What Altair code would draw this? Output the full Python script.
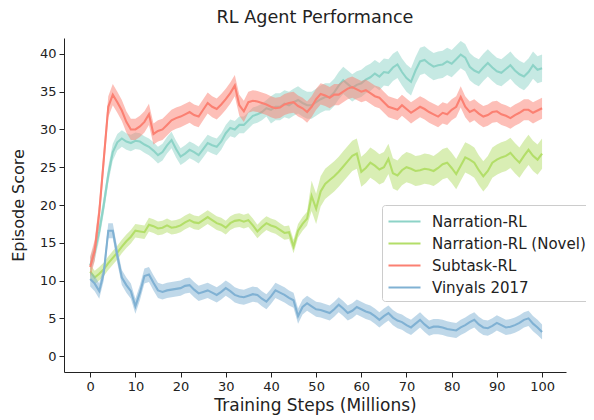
import altair as alt
import pandas as pd

steps = list(range(0, 101))

narration = [12.0, 13.8, 16.5, 20.0, 24.0, 27.0, 28.3, 28.8, 28.4, 28.2,
             28.5, 28.4, 28.0, 27.7, 27.2, 26.6, 27.0, 27.9, 28.6, 27.4,
             26.4, 26.8, 27.3, 27.0, 26.6, 27.4, 28.2, 27.9, 27.7, 28.4,
             29.5, 30.2, 30.0, 30.6, 30.6, 31.2, 31.8, 32.0, 32.3, 32.8,
             32.6, 33.0, 33.0, 33.4, 33.2, 33.6, 33.9, 33.5, 33.2, 33.2,
             33.6, 34.0, 34.3, 34.3, 34.9, 35.8, 36.5, 36.0, 35.5, 35.9,
             36.1, 36.6, 36.9, 37.4, 37.0, 37.6, 37.5, 38.2, 38.6, 37.6,
             36.8, 36.3, 37.8, 39.0, 39.2, 38.7, 38.3, 38.5, 38.6, 39.0,
             38.7, 39.3, 39.9, 39.5, 38.3, 37.8, 37.5, 38.2, 38.8, 38.2,
             37.7, 37.5, 38.0, 38.5, 37.8, 37.3, 37.0, 37.6, 38.5, 37.9,
             38.1]

novel = [11.2, 10.4, 10.9, 11.5, 12.3, 13.0, 13.7, 14.5, 15.2, 15.8,
         16.6, 16.5, 16.4, 17.4, 17.2, 16.9, 17.0, 17.3, 17.0, 17.1,
         17.3, 17.7, 18.0, 17.7, 17.6, 18.0, 18.4, 18.0, 17.6, 17.4,
         17.0, 17.6, 17.9, 18.0, 17.8, 18.0, 17.3, 16.5, 17.1, 17.6,
         17.3, 17.1, 16.7, 16.3, 16.4, 14.5, 16.6, 17.5, 18.2, 21.2,
         19.5, 21.8, 22.8, 23.3, 23.8, 24.4, 25.1, 25.8, 26.5, 26.8,
         24.4, 24.9, 25.6, 25.2, 24.7, 25.0, 26.1, 24.2, 23.9, 24.6,
         25.0, 24.8, 24.5, 24.6, 24.8, 24.7, 24.5, 24.9, 25.4, 25.6,
         24.9, 24.1, 25.2, 26.3, 26.0, 25.6, 24.6, 23.8, 24.5, 25.6,
         26.0, 26.3, 26.5, 26.9, 26.2, 25.6, 26.5, 27.3, 26.5, 26.0,
         26.8]

subtask = [11.8, 14.0, 19.0, 26.0, 33.0, 34.6, 33.6, 32.5, 31.0, 30.0,
           30.0, 30.4, 31.0, 32.0, 29.4, 29.8, 30.0, 30.6, 31.2, 31.5,
           31.7, 32.0, 32.3, 31.9, 31.7, 32.6, 33.5, 33.0, 32.7, 33.3,
           34.0, 34.8, 35.8, 33.2, 32.4, 33.6, 33.8, 33.7, 33.5, 33.3,
           33.0, 32.8, 32.9, 33.3, 33.5, 33.6, 33.1, 32.8, 32.3, 33.0,
           34.0, 34.7, 34.5, 34.2, 34.6, 34.6, 35.0, 35.4, 35.6, 35.3,
           35.0, 35.2, 34.8, 34.4, 34.2, 33.6, 33.0, 32.8, 32.6, 33.2,
           32.7, 32.2, 32.6, 33.0, 32.7, 32.3, 32.0, 31.7, 32.2, 32.0,
           32.6, 33.0, 34.3, 33.0, 32.3, 32.6, 32.1, 31.7, 31.9, 32.3,
           32.4, 32.0, 31.8, 31.5, 31.9, 32.2, 32.6, 32.6, 32.2, 32.5,
           32.8]

vinyals = [10.2, 9.6, 8.6, 11.0, 16.6, 16.6, 13.3, 10.4, 9.4, 8.6,
           6.6, 8.4, 10.6, 10.8, 9.7, 8.7, 8.5, 8.7, 8.8, 8.9,
           9.0, 9.3, 9.4, 8.8, 8.3, 8.5, 8.7, 8.4, 8.1, 8.5,
           9.0, 8.6, 8.1, 7.9, 7.8, 8.0, 8.2, 8.1, 7.6, 7.2,
           7.9, 8.7, 8.4, 8.1, 7.7, 7.4, 5.3, 6.5, 7.0, 6.6,
           6.2, 6.1, 5.9, 5.7, 6.2, 6.8, 6.3, 5.7, 6.0, 6.5,
           6.2, 5.9, 5.7, 5.3, 4.8, 5.3, 5.7, 5.1, 4.7, 4.5,
           4.1, 3.8, 4.3, 4.8, 4.2, 3.7, 3.9, 3.9, 3.8, 3.6,
           3.5, 3.4, 3.8, 4.1, 4.5, 4.8, 4.2, 3.8, 3.7, 4.0,
           4.4, 4.1, 3.8, 3.9, 4.1, 4.4, 4.8, 5.0, 4.3, 3.8,
           3.2]

series_names = ["Narration-RL", "Narration-RL (Novel)", "Subtask-RL", "Vinyals 2017"]
series_values = [narration, novel, subtask, vinyals]
# band half-widths: value before the change step, change step, value after
band_early = [1.1, 0.9, 1.4, 0.9]
band_late = [1.8, 2.0, 1.4, 1.0]
band_change = [40, 49, 0, 0]
colors = ["#8dd3c7", "#b3de69", "#fb8072", "#80b1d3"]
x_ticks = list(range(0, 101, 10))
y_ticks = list(range(0, 41, 5))

rows = []
for name, vals, e0, e1, c in zip(series_names, series_values, band_early, band_late, band_change):
    for s, v in zip(steps, vals):
        e = e0 if s < c else e1
        rows.append({"step": s, "series": name, "score": v, "lo": v - e, "hi": v + e})
df = pd.DataFrame(rows)

FONT = "DejaVu Sans"
TXT = "#222222"

xscale = alt.Scale(domain=[-5.8, 105.3], nice=False, zero=False)
yscale = alt.Scale(domain=[-2.1, 42.1], nice=False, zero=False)
xaxis = alt.Axis(values=x_ticks, title="Training Steps (Millions)", grid=False,
                 labelFontSize=13, titleFontSize=17, tickSize=5,
                 domainColor="#222222", tickColor="#222222", labelColor=TXT,
                 titleColor=TXT, labelFont=FONT, titleFont=FONT,
                 titleFontWeight="normal", titlePadding=4, labelPadding=3)
yaxis = alt.Axis(values=y_ticks, title="Episode Score", grid=False,
                 labelFontSize=13, titleFontSize=16, tickSize=5,
                 domainColor="#222222", tickColor="#222222", labelColor=TXT,
                 titleColor=TXT, labelFont=FONT, titleFont=FONT,
                 titleFontWeight="normal", titlePadding=13, labelPadding=3)

color = alt.Color(
    "series:N",
    scale=alt.Scale(domain=series_names, range=colors),
    legend=alt.Legend(
        title=None, orient="none", legendX=318, legendY=167,
        symbolType="M-1,0H2.2", symbolStrokeWidth=2.2, symbolSize=400,
        labelFontSize=15, labelFont=FONT, labelColor=TXT, labelOffset=22,
        labelLimit=400,
        strokeColor="#cccccc", fillColor="white", cornerRadius=3,
        padding=5, rowPadding=2, symbolOpacity=1,
    ),
)

layers = []
for name in series_names:
    base = alt.Chart(df).transform_filter(alt.datum.series == name)
    band = base.mark_area(opacity=0.5, interpolate="linear").encode(
        x=alt.X("step:Q", scale=xscale, axis=xaxis),
        y=alt.Y("lo:Q", scale=yscale, axis=yaxis),
        y2="hi:Q",
        color=color,
    )
    line = base.mark_line(strokeWidth=2.1).encode(
        x=alt.X("step:Q", scale=xscale, axis=xaxis),
        y=alt.Y("score:Q", scale=yscale, axis=yaxis),
        color=color,
    )
    layers += [band, line]

chart = alt.layer(*layers).properties(
    width=502,
    height=334,
    title=alt.TitleParams("RL Agent Performance", fontSize=17.6, font=FONT,
                          fontWeight="normal", color=TXT, anchor="middle", offset=11),
    padding={"left": 56, "top": 30, "right": 20, "bottom": 48},
    autosize="none",
    background="white",
).configure_view(stroke=None)

chart.save("out.html", embed_options={"renderer": "svg", "actions": False})
